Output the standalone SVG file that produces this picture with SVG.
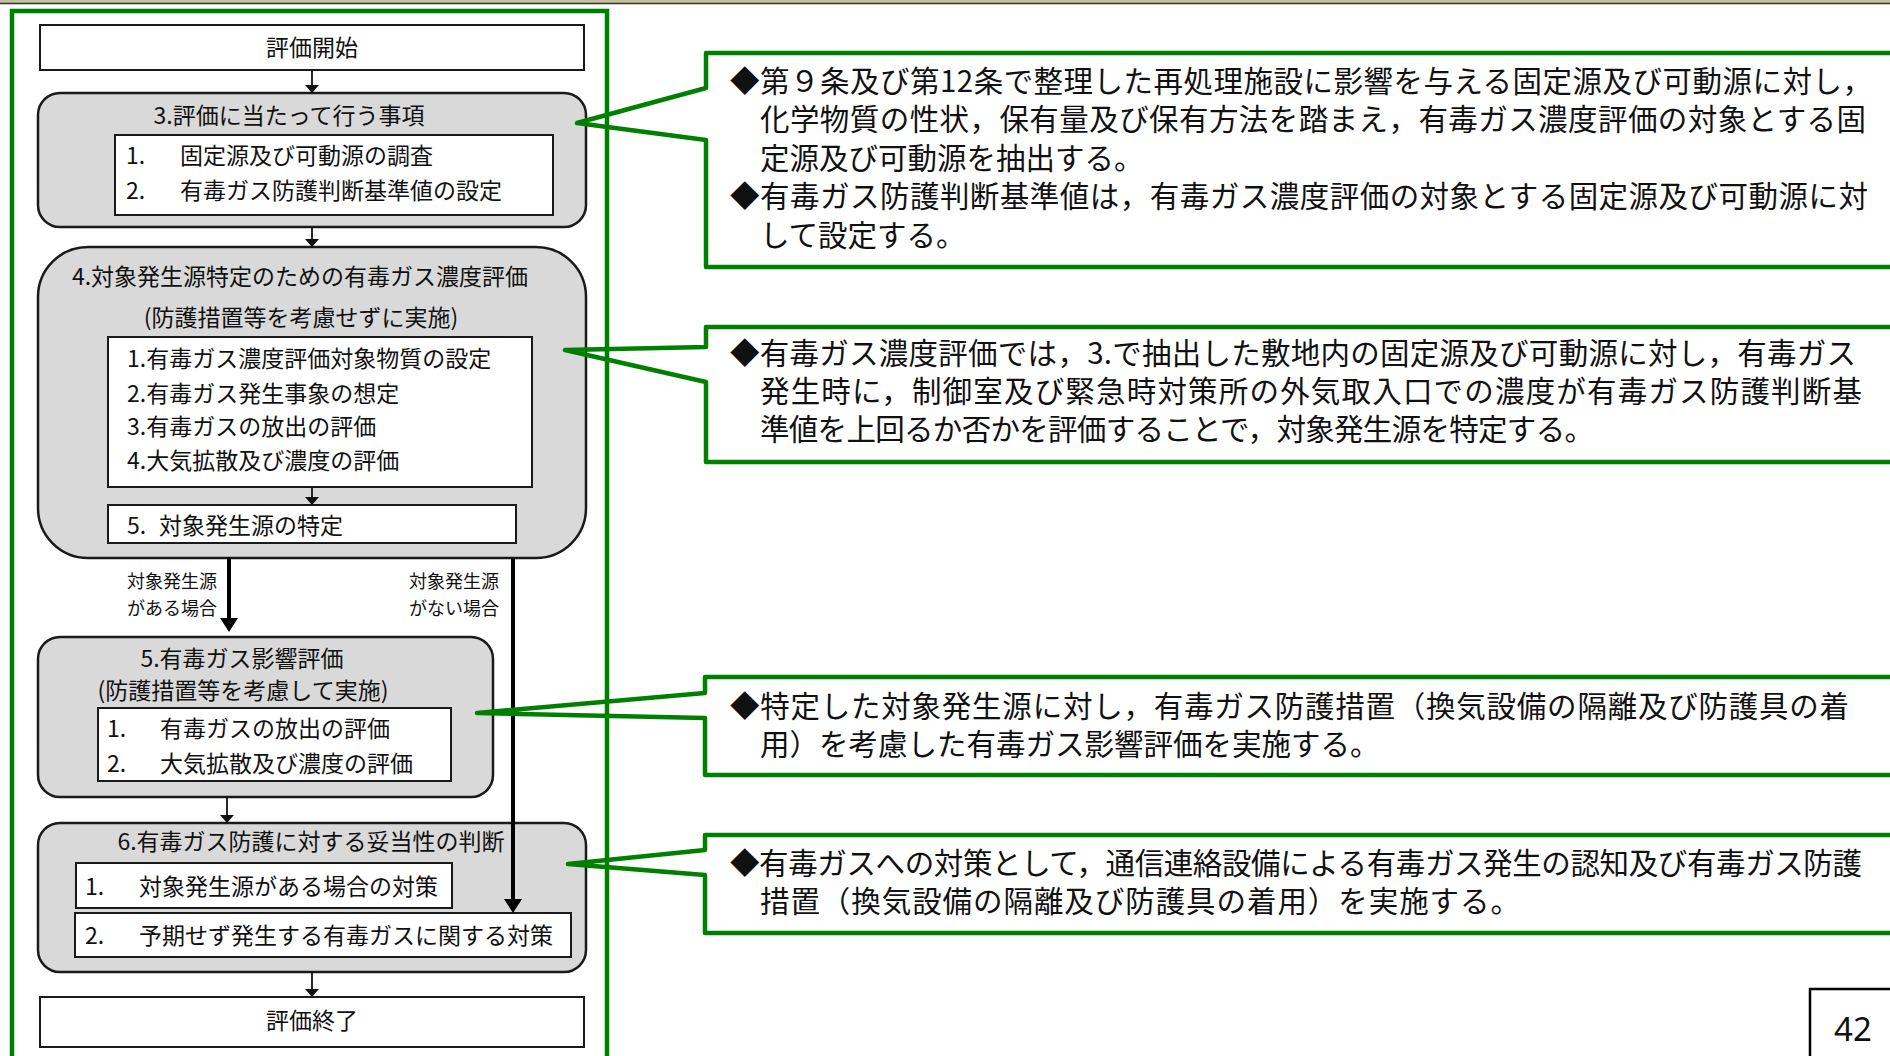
<svg xmlns="http://www.w3.org/2000/svg" width="1890" height="1056" viewBox="0 0 1890 1056">
<defs>
<style>
text{font-family:"Noto Sans CJK JP","Noto Sans",sans-serif;fill:#111;}
.f{font-size:23px;}
.lb{font-size:18px;}
.co{font-size:29.5px;}
.mid{text-anchor:middle;}
.wbox{fill:#fff;stroke:#1a1a1a;stroke-width:2;}
.gbox{fill:#d9d9d9;stroke:#1a1a1a;stroke-width:2.5;}
.thin{fill:none;stroke:#111;stroke-width:1.8;}
.thick{fill:none;stroke:#000;stroke-width:4;}
.call{fill:none;stroke:#008000;stroke-width:4.5;stroke-linejoin:round;}
</style>
<marker id="ahs" viewBox="0 0 8 14" refX="8" refY="7" markerWidth="8" markerHeight="14" markerUnits="userSpaceOnUse" orient="auto">
<path d="M0,0 L8,7 L0,14 z" fill="#111"/>
</marker>
<marker id="ahl" viewBox="0 0 14 18" refX="10" refY="9" markerWidth="14" markerHeight="18" markerUnits="userSpaceOnUse" orient="auto">
<path d="M0,0 L14,9 L0,18 z" fill="#000"/>
</marker>
</defs>
<rect x="0" y="0" width="1890" height="1056" fill="#fff"/>
<rect x="0" y="0" width="1890" height="3" fill="#c2c29a"/>
<line x1="0" y1="3.5" x2="1890" y2="3.5" stroke="#333" stroke-width="1.5"/>

<g id="frame">
<rect x="12" y="11" width="595" height="1060" fill="none" stroke="#008000" stroke-width="4.5"/>
</g>

<g id="start">
<rect class="wbox" x="40" y="25" width="544" height="45"/>
<text class="f mid" x="312" y="56">評価開始</text>
</g>

<g id="step3">
<rect class="gbox" x="38" y="93" width="548" height="134" rx="22"/>
<text class="f mid" x="289" y="124">3.評価に当たって行う事項</text>
<rect class="wbox" x="115" y="135" width="438" height="80"/>
<text class="f" x="126" y="164">1.<tspan x="180">固定源及び可動源の調査</tspan></text>
<text class="f" x="126" y="199">2.<tspan x="180">有毒ガス防護判断基準値の設定</tspan></text>
</g>

<g id="step4">
<rect class="gbox" x="38" y="247" width="548" height="311" rx="50"/>
<text class="f mid" x="300" y="285">4.対象発生源特定のための有毒ガス濃度評価</text>
<text class="f mid" x="301" y="326">(防護措置等を考慮せずに実施)</text>
<rect class="wbox" x="108" y="337" width="424" height="150"/>
<text class="f" x="127" y="367">1.有毒ガス濃度評価対象物質の設定</text>
<text class="f" x="127" y="402">2.有毒ガス発生事象の想定</text>
<text class="f" x="127" y="435">3.有毒ガスの放出の評価</text>
<text class="f" x="127" y="469">4.大気拡散及び濃度の評価</text>
</g>

<g id="step4-5">
<rect class="wbox" x="108" y="505" width="408" height="38"/>
<text class="f" x="127" y="534">5.<tspan x="159">対象発生源の特定</tspan></text>
</g>

<g id="step5">
<rect class="gbox" x="38" y="637" width="455" height="160" rx="22"/>
<text class="f mid" x="242" y="667">5.有毒ガス影響評価</text>
<text class="f mid" x="243" y="699">(防護措置等を考慮して実施)</text>
<rect class="wbox" x="98" y="708" width="353" height="73"/>
<text class="f" x="107" y="737">1.<tspan x="160">有毒ガスの放出の評価</tspan></text>
<text class="f" x="107" y="772">2.<tspan x="160">大気拡散及び濃度の評価</tspan></text>
</g>

<g id="step6">
<rect class="gbox" x="38" y="823" width="548" height="149" rx="22"/>
<text class="f mid" x="311" y="850">6.有毒ガス防護に対する妥当性の判断</text>
<rect class="wbox" x="76" y="863" width="376" height="45"/>
<text class="f" x="85" y="895">1.<tspan x="139">対象発生源がある場合の対策</tspan></text>
<rect class="wbox" x="75" y="913" width="496" height="44"/>
<text class="f" x="85" y="944">2.<tspan x="139">予期せず発生する有毒ガスに関する対策</tspan></text>
</g>

<g id="end">
<rect class="wbox" x="40" y="997" width="544" height="50"/>
<text class="f mid" x="312" y="1029">評価終了</text>
</g>

<g id="connectors">
<path class="thin" d="M312,70 V93" marker-end="url(#ahs)"/>
<path class="thin" d="M312,227 V247" marker-end="url(#ahs)"/>
<path class="thin" d="M312,487 V505" marker-end="url(#ahs)"/>
<path class="thick" d="M229,558 V628" marker-end="url(#ahl)"/>
<path class="thin" d="M227,797 V823" marker-end="url(#ahs)"/>
<path class="thick" d="M513,558 V909" marker-end="url(#ahl)"/>
<path class="thin" d="M312,972 V997" marker-end="url(#ahs)"/>
<text class="lb" x="127" y="588">対象発生源</text>
<text class="lb" x="127" y="615">がある場合</text>
<text class="lb" x="409" y="588">対象発生源</text>
<text class="lb" x="409" y="615">がない場合</text>
</g>

<g id="callout1">
<path class="call" d="M706,88 V53 H1896 V267 H706 V140 L577,123 Z"/>
<text class="co" x="730" y="91.5" textLength="1142">◆第９条及び第12条で整理した再処理施設に影響を与える固定源及び可動源に対し，</text>
<text class="co" x="760" y="130" textLength="1106">化学物質の性状，保有量及び保有方法を踏まえ，有毒ガス濃度評価の対象とする固</text>
<text class="co" x="760" y="168.5">定源及び可動源を抽出する。</text>
<text class="co" x="730" y="207" textLength="1138">◆有毒ガス防護判断基準値は，有毒ガス濃度評価の対象とする固定源及び可動源に対</text>
<text class="co" x="760" y="245.5">して設定する。</text>
</g>

<g id="callout2">
<path class="call" d="M706,347 V327 H1896 V462 H706 V382 L565,350 Z"/>
<text class="co" x="730" y="363.5" textLength="1126">◆有毒ガス濃度評価では，3.で抽出した敷地内の固定源及び可動源に対し，有毒ガス</text>
<text class="co" x="760" y="401.5" textLength="1102">発生時に，制御室及び緊急時対策所の外気取入口での濃度が有毒ガス防護判断基</text>
<text class="co" x="760" y="439.5" textLength="834">準値を上回るか否かを評価することで，対象発生源を特定する。</text>
</g>

<g id="callout3">
<path class="call" d="M705,693 V677 H1896 V775 H705 V718 L477,713 Z"/>
<text class="co" x="730" y="716.5" textLength="1119">◆特定した対象発生源に対し，有毒ガス防護措置（換気設備の隔離及び防護具の着</text>
<text class="co" x="760" y="754.5">用）を考慮した有毒ガス影響評価を実施する。</text>
</g>

<g id="callout4">
<path class="call" d="M705,850 V835 H1896 V933 H705 V875 L568,864 Z"/>
<text class="co" x="730" y="873.5" textLength="1132">◆有毒ガスへの対策として，通信連絡設備による有毒ガス発生の認知及び有毒ガス防護</text>
<text class="co" x="760" y="912" textLength="760">措置（換気設備の隔離及び防護具の着用）を実施する。</text>
</g>

<g id="page">
<rect x="1810" y="989" width="100" height="100" fill="#fff" stroke="#000" stroke-width="2.5"/>
<text x="1834" y="1041" style="font-family:'Noto Sans',sans-serif;font-size:33px;">42</text>
</g>
</svg>
